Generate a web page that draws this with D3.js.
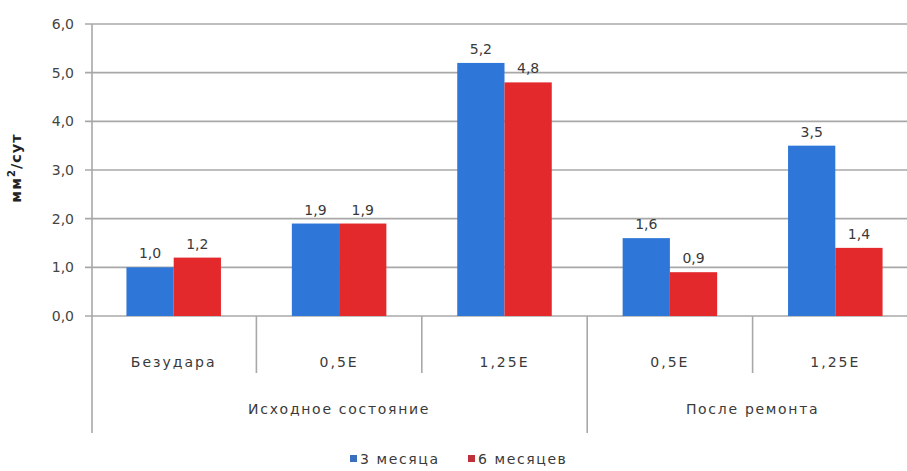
<!DOCTYPE html>
<html><head><meta charset="utf-8">
<script src="https://cdn.jsdelivr.net/npm/d3@7"></script>
<style>body{margin:0;background:#fff;} text{font-family:"DejaVu Sans",sans-serif;fill:#3a3a3a;}</style>
</head><body><svg id="c" width="907" height="471"></svg>
<script>
const categories = ["Безудара","0,5E","1,25E","0,5E","1,25E"];
const groups = [{name:"Исходное состояние", span:3},{name:"После ремонта", span:2}];
const seriesNames = ["3 месяца","6 месяцев"];
const months3 = [1.0,1.9,5.2,1.6,3.5];
const months6 = [1.2,1.9,4.8,0.9,1.4];
const yTicks = [0,1,2,3,4,5,6];
const colors = ["#2e77d8","#e3292b"];
const legendColors = ["#3a6fc0","#c0303a"];

const svg = d3.select("#c");
const fmt = v => d3.format(".1f")(v).replace(".", ",");
const x = d3.scaleBand().domain(d3.range(categories.length)).range([91,918]).paddingInner(0).paddingOuter(0);
const y = d3.scaleLinear().domain([0,6]).range([316,24]);
const sub = d3.scaleBand().domain([0,1]).range([0,x.bandwidth()]).paddingInner(0).paddingOuter(0.75);

// gridlines
svg.append("g").selectAll("line").data(yTicks).join("line")
  .attr("x1",85).attr("x2",918).attr("y1",d=>y(d)).attr("y2",d=>y(d))
  .attr("stroke","#a8a8a8").attr("stroke-width",1.6);
svg.append("g").selectAll("text").data(yTicks).join("text")
  .attr("x",74).attr("y",d=>y(d)).attr("dy","0.35em").attr("text-anchor","end")
  .style("font-size","14px").style("fill","#444").text(d=>fmt(d));
// left axis
svg.append("line").attr("x1",92).attr("x2",92).attr("y1",24).attr("y2",433).attr("stroke","#a8a8a8").attr("stroke-width",1.6);
// y title
svg.append("text").attr("transform","translate(21,168) rotate(-90)").attr("text-anchor","middle")
  .style("font-size","14.5px").style("font-weight","bold").style("letter-spacing","1px").style("fill","#222")
  .html("мм<tspan dy='-6' font-size='10px'>2</tspan><tspan dy='6'>/сут</tspan>");

// bars
const data = categories.map((c,i)=>[months3[i],months6[i]]);
const cg = svg.append("g").selectAll("g").data(data).join("g").attr("transform",(d,i)=>`translate(${x(i)},0)`);
cg.selectAll("rect").data(d=>d).join("rect")
  .attr("x",(d,j)=>sub(j)).attr("width",sub.bandwidth())
  .attr("y",d=>y(d)).attr("height",d=>y(0)-y(d))
  .attr("fill",(d,j)=>colors[j]);
cg.selectAll("text").data(d=>d).join("text")
  .attr("x",(d,j)=>sub(j)+sub.bandwidth()/2).attr("y",d=>y(d)-9)
  .attr("text-anchor","middle").style("font-size","14px").text(d=>fmt(d));

// category separators and labels
const cats = svg.append("g");
d3.range(1,categories.length).forEach(i=>{
  const isGroup = i===3;
  cats.append("line").attr("x1",x(i)).attr("x2",x(i)).attr("y1",316).attr("y2",isGroup?433:373)
    .attr("stroke","#a8a8a8").attr("stroke-width",1.6);
});
cats.selectAll("text").data(categories).join("text")
  .attr("x",(d,i)=>x(i)+x.bandwidth()/2).attr("y",362).attr("dy","0.35em").attr("text-anchor","middle")
  .style("font-size","14px").style("letter-spacing","2px").text(d=>d);
let start=0;
groups.forEach(g=>{
  const x0 = x(start), x1 = x(start+g.span-1)+x.bandwidth();
  svg.append("text").attr("x",(x0+x1)/2).attr("y",409).attr("dy","0.35em").attr("text-anchor","middle")
    .style("font-size","14px").style("letter-spacing","1.7px").text(g.name);
  start+=g.span;
});

// legend
const lg = svg.append("g").attr("transform","translate(350,459)");
const lx = [0,118];
seriesNames.forEach((s,j)=>{
  lg.append("rect").attr("x",lx[j]).attr("y",-4).attr("width",7).attr("height",7).attr("fill",legendColors[j]);
  lg.append("text").attr("x",lx[j]+10).attr("y",0).attr("dy","0.35em").style("font-size","14px").style("letter-spacing","1.6px").text(s);
});
</script></body></html>
